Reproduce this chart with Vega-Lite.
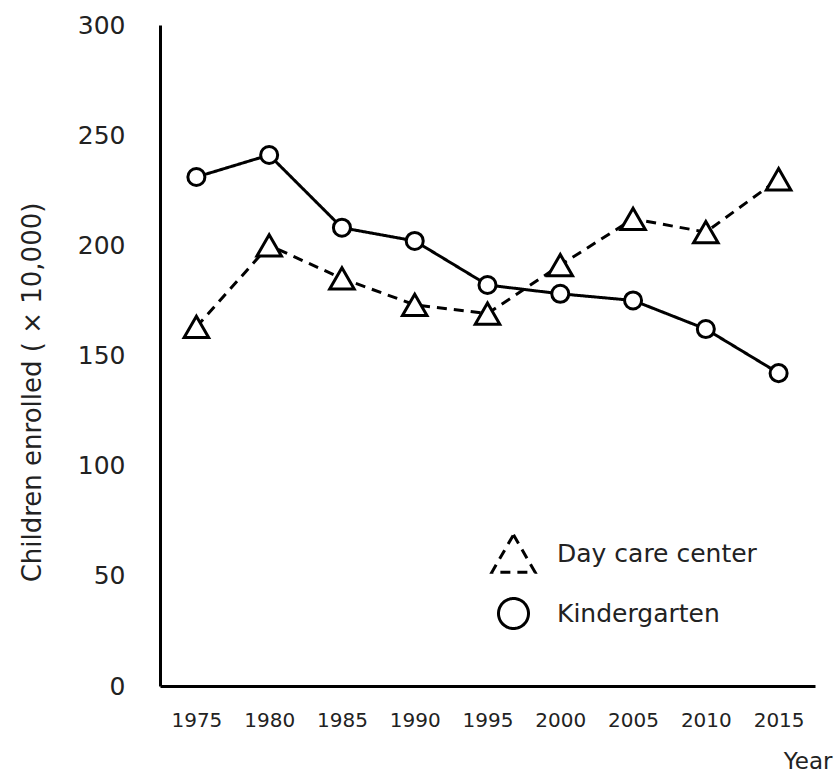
{
  "$schema": "https://vega.github.io/schema/vega-lite/v6.json",
  "autosize": {"type": "none"},
  "padding": {"left": 160, "top": 25, "right": 21, "bottom": 90},
  "width": 655,
  "height": 661,
  "background": "white",
  "config": {"view": {"stroke": null}},
  "data": {
    "values": [
      {"year": "1975", "series": "Day care center", "value": 163},
      {"year": "1980", "series": "Day care center", "value": 200},
      {"year": "1985", "series": "Day care center", "value": 185},
      {"year": "1990", "series": "Day care center", "value": 173},
      {"year": "1995", "series": "Day care center", "value": 169},
      {"year": "2000", "series": "Day care center", "value": 191},
      {"year": "2005", "series": "Day care center", "value": 212},
      {"year": "2010", "series": "Day care center", "value": 206},
      {"year": "2015", "series": "Day care center", "value": 230},
      {"year": "1975", "series": "Kindergarten", "value": 231},
      {"year": "1980", "series": "Kindergarten", "value": 241},
      {"year": "1985", "series": "Kindergarten", "value": 208},
      {"year": "1990", "series": "Kindergarten", "value": 202},
      {"year": "1995", "series": "Kindergarten", "value": 182},
      {"year": "2000", "series": "Kindergarten", "value": 178},
      {"year": "2005", "series": "Kindergarten", "value": 175},
      {"year": "2010", "series": "Kindergarten", "value": 162},
      {"year": "2015", "series": "Kindergarten", "value": 142}
    ]
  },
  "encoding": {
    "x": {
      "field": "year",
      "type": "ordinal",
      "scale": {"type": "point", "padding": 0.5},
      "axis": {
        "title": "Year",
        "titleFont": "DejaVu Sans",
        "titleFontSize": 23,
        "titleFontWeight": "normal",
        "titleColor": "#222",
        "titleAnchor": "end",
        "titleAlign": "right",
        "titleBaseline": "alphabetic",
        "titleX": 672,
        "titleY": 82,
        "labelAngle": 0,
        "labelFont": "DejaVu Sans",
        "labelFontSize": 20,
        "labelColor": "#222",
        "labelPadding": 24,
        "ticks": false,
        "grid": false,
        "domainColor": "black",
        "domainWidth": 3
      }
    },
    "y": {
      "field": "value",
      "type": "quantitative",
      "scale": {"domain": [0, 300], "nice": false, "zero": true},
      "axis": {
        "title": "Children enrolled ( × 10,000)",
        "titleFont": "DejaVu Sans",
        "titleFontSize": 26,
        "titleFontWeight": "normal",
        "titleColor": "#222",
        "titleAngle": 270,
        "titleAlign": "center",
        "titleBaseline": "middle",
        "titleX": -128,
        "titleY": 367,
        "values": [0, 50, 100, 150, 200, 250, 300],
        "labelFont": "DejaVu Sans",
        "labelFontSize": 25,
        "labelColor": "#222",
        "labelPadding": 35,
        "ticks": false,
        "grid": false,
        "domainColor": "black",
        "domainWidth": 3
      }
    }
  },
  "layer": [
    {
      "mark": {"type": "line", "color": "black", "strokeWidth": 3},
      "encoding": {
        "strokeDash": {
          "field": "series",
          "type": "nominal",
          "scale": {"domain": ["Day care center", "Kindergarten"], "range": [[10, 7], [1, 0]]}
        }
      }
    },
    {
      "mark": {"type": "point", "filled": true, "fill": "white", "stroke": "black", "strokeWidth": 3, "opacity": 1, "size": 290},
      "encoding": {
        "shape": {
          "field": "series",
          "type": "nominal",
          "scale": {"domain": ["Day care center", "Kindergarten"], "range": ["M0,-1.25L1.44,1.25L-1.44,1.25Z", "circle"]},
          "legend": {
            "title": null,
            "orient": "none",
            "legendX": 337,
            "legendY": 512,
            "padding": 0,
            "symbolSize": 900,
            "symbolFillColor": "white",
            "symbolStrokeColor": "black",
            "symbolStrokeWidth": 3,
            "rowPadding": 13,
            "labelFont": "DejaVu Sans",
            "labelFontSize": 25,
            "labelColor": "#222",
            "labelOffset": 27,
            "labelLimit": 0
          }
        }
      }
    }
  ]
}
